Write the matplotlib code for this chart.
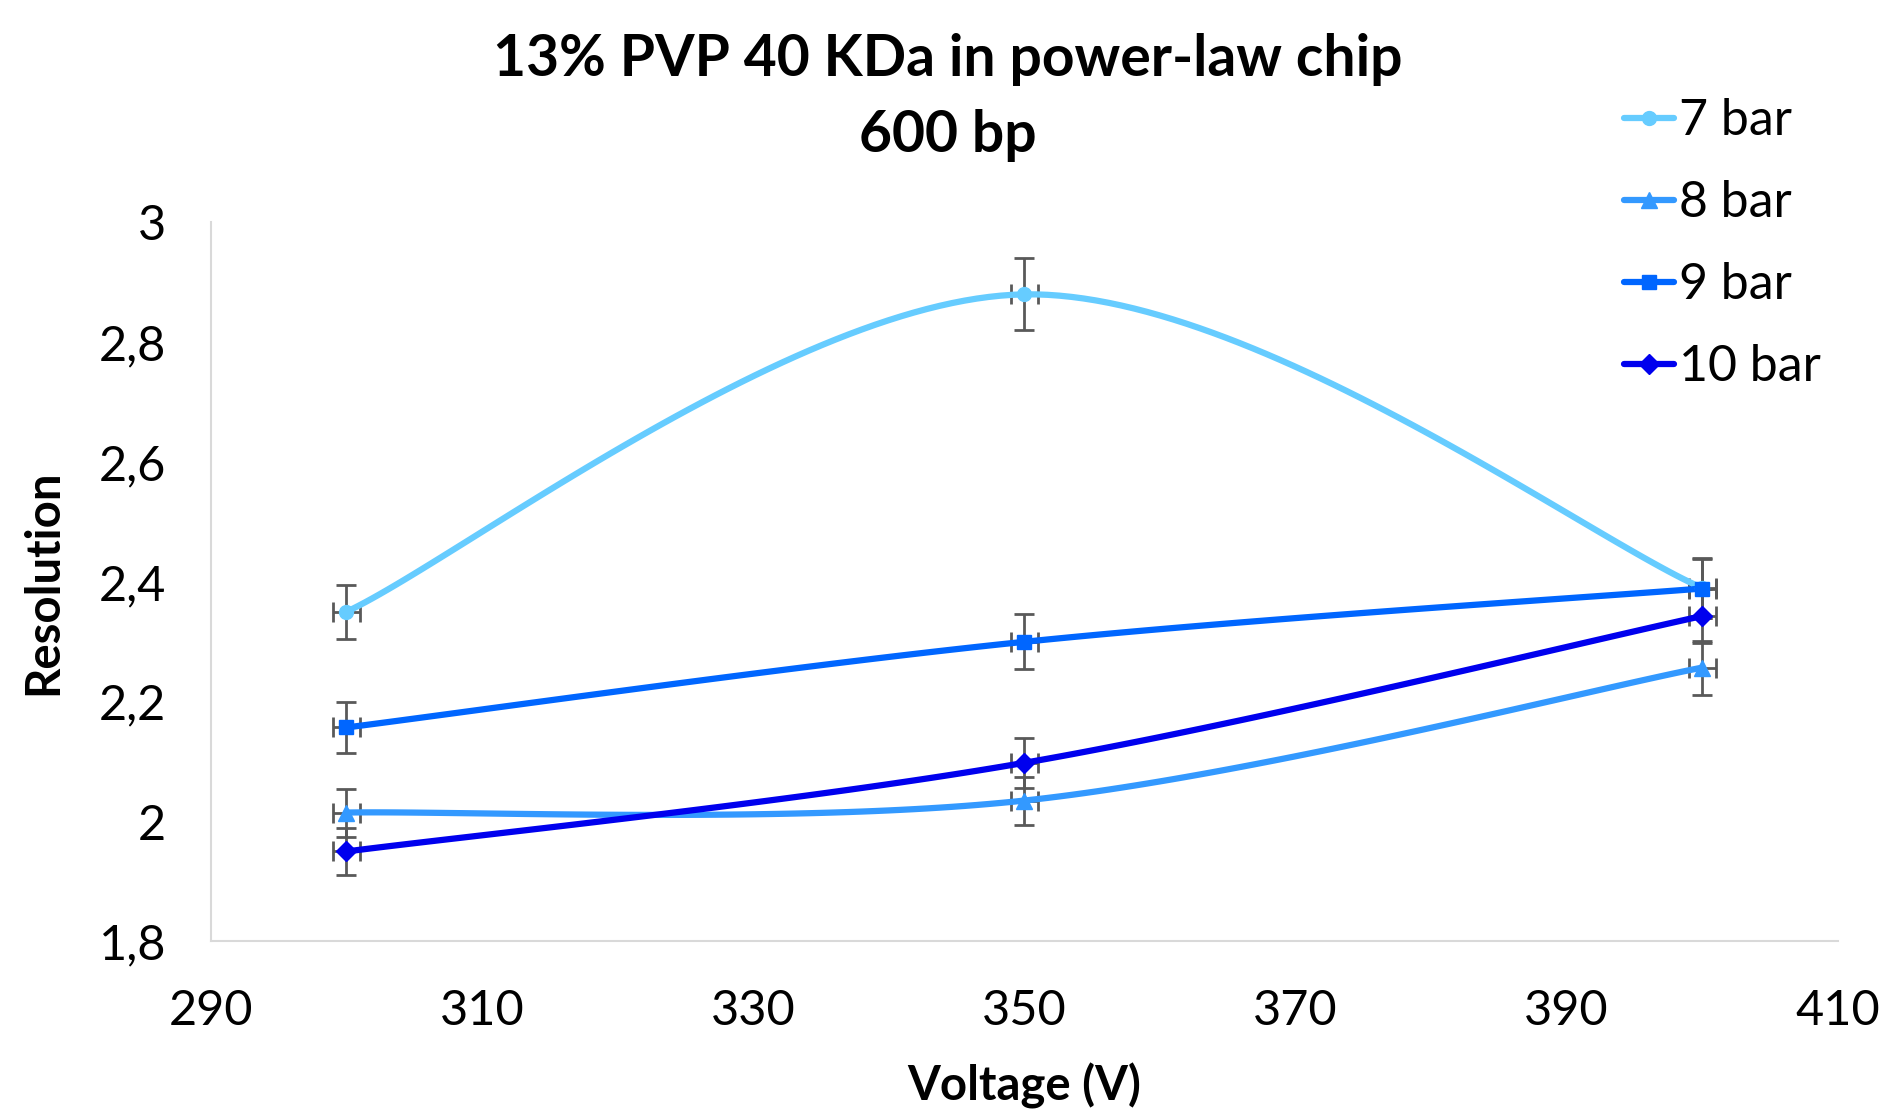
import matplotlib.pyplot as plt
import numpy as np
from matplotlib.ticker import FuncFormatter

plt.rcParams['font.family'] = ['Lato', 'DejaVu Sans']

voltage = [300, 350, 400]
series = ['7 bar', '8 bar', '9 bar', '10 bar']
res_7 = [2.35, 2.88, 2.39]
res_8 = [2.015, 2.035, 2.257]
res_9 = [2.157, 2.30, 2.389]
res_10 = [1.95, 2.098, 2.343]
err_7 = [0.045, 0.06, 0.05]
err_8 = [0.04, 0.04, 0.045]
err_9 = [0.043, 0.046, 0.05]
err_10 = [0.04, 0.042, 0.045]
xerr = [1, 1, 1]

colors = ['#66CCFF', '#3399FF', '#0066FF', '#0000EE']
markers = ['o', '^', 's', 'D']


def smooth(x, y, n=60):
    # catmull-rom style curve like excel's smoothed line
    x = np.asarray(x, float)
    y = np.asarray(y, float)
    px = np.concatenate([[x[0]], x, [x[-1]]])
    py = np.concatenate([[y[0]], y, [y[-1]]])
    xs, ys = [], []
    t = np.linspace(0, 1, n)
    for i in range(1, len(px) - 2):
        for p, out in ((px, xs), (py, ys)):
            p0, p1, p2, p3 = p[i - 1], p[i], p[i + 1], p[i + 2]
            c1 = p1 + (p2 - p0) / 6
            c2 = p2 - (p3 - p1) / 6
            out.extend((1 - t) ** 3 * p1 + 3 * (1 - t) ** 2 * t * c1
                       + 3 * (1 - t) * t ** 2 * c2 + t ** 3 * p2)
    return xs, ys


fig = plt.figure(figsize=(18.81, 11.18), dpi=100)
ax = fig.add_axes([0.112, 0.158, 0.865, 0.643])

data = [(res_7, err_7), (res_8, err_8), (res_9, err_9), (res_10, err_10)]
handles = []
for (vals, errs), name, c, m in zip(data, series, colors, markers):
    sx, sy = smooth(voltage, vals)
    ax.errorbar(voltage, vals, yerr=errs, xerr=xerr, fmt='none',
                ecolor='#595959', elinewidth=2, capsize=7, capthick=2, zorder=2)
    ax.plot(sx, sy, color=c, lw=4.5, zorder=3, solid_capstyle='round')
    ms = 10 if m != '^' else 12
    ax.plot(voltage, vals, linestyle='none', marker=m, color=c, ms=ms, zorder=4)
    handles.append(plt.Line2D([], [], color=c, lw=4.5, marker=m, ms=ms,
                              solid_capstyle='round'))

ax.set_xlim(290, 410)
ax.set_ylim(1.8, 3.0)
ax.set_xticks(np.arange(290, 411, 20))
ax.set_yticks(np.arange(1.8, 3.01, 0.2))
ax.yaxis.set_major_formatter(FuncFormatter(lambda v, p: ('%g' % round(v, 1)).replace('.', ',')))
ax.tick_params(length=0, labelsize=35)
ax.tick_params(axis='x', pad=34)
ax.tick_params(axis='y', pad=32)
for s in ['top', 'right']:
    ax.spines[s].set_visible(False)
for s in ['left', 'bottom']:
    ax.spines[s].set_color('#D9D9D9')
    ax.spines[s].set_linewidth(1.5)

ax.set_xlabel('Voltage (V)', fontsize=34, fontweight='bold', labelpad=22)
ax.set_ylabel('Resolution', fontsize=34, fontweight='bold', labelpad=24)

fig.text(0.504, 0.947, '13% PVP 40 KDa in power-law chip', ha='center', va='center',
         fontsize=41, fontweight='bold')
fig.text(0.504, 0.879, '600 bp', ha='center', va='center',
         fontsize=41, fontweight='bold')

fig.legend(handles, series, loc='upper left', bbox_to_anchor=(0.853, 0.93),
           frameon=False, fontsize=36, handlelength=1.0, handletextpad=0.1,
           labelspacing=0.72, borderaxespad=0)

plt.savefig('out.png')
